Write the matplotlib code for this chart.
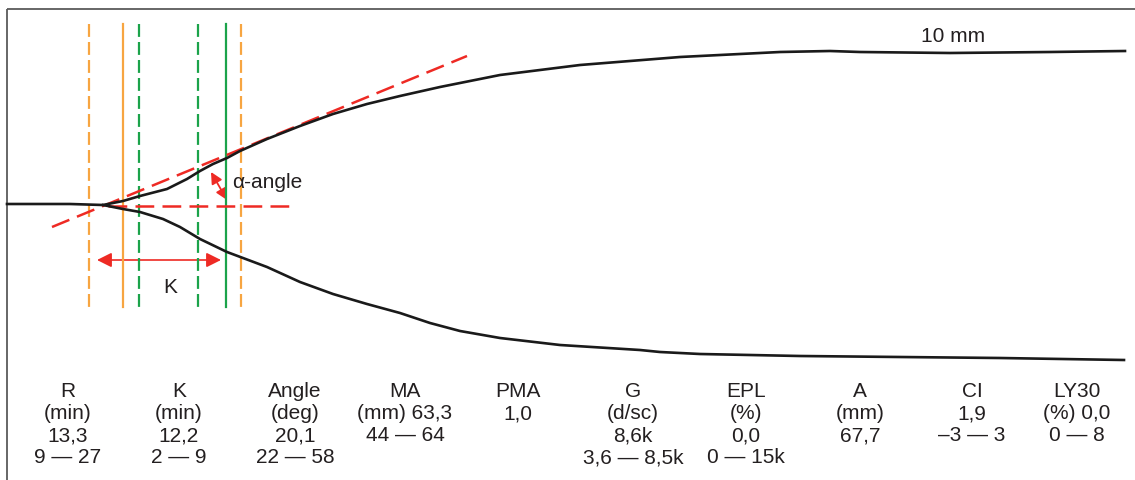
import matplotlib.pyplot as plt
from matplotlib.patches import FancyArrowPatch

plt.rcParams['font.family'] = ['Liberation Sans', 'DejaVu Sans']

# curve traced in picture units (x to the right, y downwards)
base_x = [7, 40, 70, 103]
base_y = [205, 205, 205, 206]

upper_x = [103, 123, 140, 167, 187, 200, 213, 227, 240, 267, 300, 333, 367, 400,
           440, 500, 580, 680, 780, 830, 860, 950, 1050, 1125]
upper_y = [206, 202, 197, 190, 180, 172, 165, 159, 152, 140, 127, 115, 105, 97,
           88, 76, 66, 58, 53, 52, 53, 54, 53, 52]

lower_x = [103, 123, 140, 163, 180, 200, 227, 267, 300, 333, 367, 400, 430, 460,
           500, 560, 640, 660, 700, 800, 900, 1000, 1124]
lower_y = [206, 210, 213, 220, 228, 240, 253, 268, 283, 295, 305, 314, 324, 332,
           339, 346, 351, 353, 355, 357, 358, 359, 361]

# time markers (R and K limits)
orange_dashed = [89, 241]
orange_solid = [123]
green_dashed = [139, 198]
green_solid = [226]

# results table
names = ['R', 'K', 'Angle', 'MA', 'PMA', 'G', 'EPL', 'A', 'CI', 'LY30']
row2 = ['(min)', '(min)', '(deg)', '(mm) 63,3', '1,0', '(d/sc)', '(%)', '(mm)', '1,9', '(%) 0,0']
row3 = ['13,3', '12,2', '20,1', '44 — 64', '', '8,6k', '0,0', '67,7', '–3 — 3', '0 — 8']
row4 = ['9 — 27', '2 — 9', '22 — 58', '', '', '3,6 — 8,5k', '0 — 15k', '', '', '']
col_x = [68, 179, 295, 405, 518, 633, 746, 860, 972, 1077]

fig = plt.figure(figsize=(11.35, 4.81), dpi=100)
ax = fig.add_axes([0, 0, 1, 1])
ax.set_xlim(0, 1135)
ax.set_ylim(481, 0)
ax.axis('off')

orange = '#F7A541'
green = '#1BA34A'
red = '#EE2A24'
txt = '#231F20'
fs = 15

# frame (top and left)
ax.plot([7, 1135], [9.5, 9.5], color='#5a5a5a', lw=1.3, solid_capstyle='butt')
ax.plot([7, 7], [9.5, 481], color='#5a5a5a', lw=1.3, solid_capstyle='butt')

for x in orange_dashed:
    ax.plot([x, x], [25, 308], color=orange, lw=1.6, dashes=(5.8, 2.3))
for x in orange_solid:
    ax.plot([x, x], [25, 308], color=orange, lw=1.6)
for x in green_dashed:
    ax.plot([x, x], [25, 308], color=green, lw=1.6, dashes=(5.8, 2.3))
for x in green_solid:
    ax.plot([x, x], [25, 308], color=green, lw=1.6)

# red guide lines
ax.plot([52, 467], [228, 57], color=red, lw=1.8, dashes=(7.5, 3.3))
ax.plot([108, 297], [207, 207], color=red, lw=1.8, dashes=(7.5, 3.3))

# tracing
ax.plot(base_x + upper_x[1:], base_y + upper_y[1:], color='#1a1a1a', lw=1.9)
ax.plot(lower_x, lower_y, color='#1a1a1a', lw=1.9)

# K arrow
ax.add_patch(FancyArrowPatch((97, 261), (221, 261), arrowstyle='<|-|>',
                             mutation_scale=22, color=red, lw=1.2,
                             shrinkA=0, shrinkB=0))
ax.text(170, 288, 'K', fontsize=fs, color=txt, ha='center', va='center')

# alpha angle arrow
ax.add_patch(FancyArrowPatch((211, 173), (227, 201), arrowstyle='<|-|>',
                             mutation_scale=17, color=red, lw=1.3,
                             shrinkA=0, shrinkB=0))
ax.text(232, 183, 'α-angle', fontsize=fs, color=txt, ha='left', va='center')

ax.text(953, 37, '10 mm', fontsize=fs, color=txt, ha='center', va='center')

rows = [names, row2, row3, row4]
row_y = [392, 414, 436, 458]
for r, y in zip(rows, row_y):
    for x, s in zip(col_x, r):
        if s:
            ax.text(x, y, s, fontsize=fs, color=txt, ha='center', va='center')

fig.savefig('out.png', dpi=100)
